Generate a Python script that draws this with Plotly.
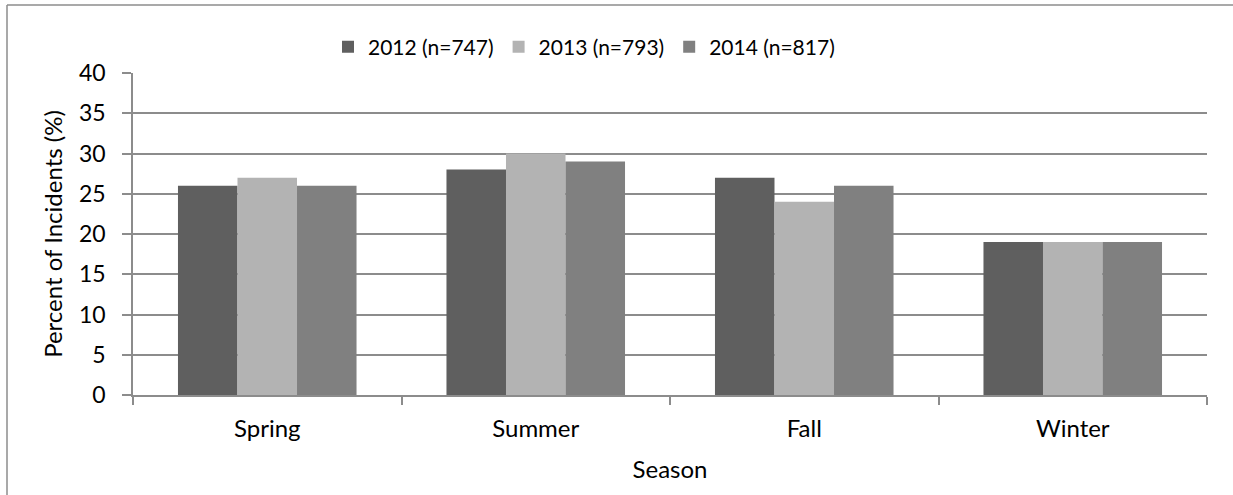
import plotly.graph_objects as go

seasons = ["Spring", "Summer", "Fall", "Winter"]
series_names = ["2012 (n=747)", "2013 (n=793)", "2014 (n=817)"]
pct_2012 = [26, 28, 27, 19]
pct_2013 = [27, 30, 24, 19]
pct_2014 = [26, 29, 26, 19]
y_ticks = [0, 5, 10, 15, 20, 25, 30, 35, 40]

colors = ["#5f5f5f", "#b3b3b3", "#808080"]
font_family = "Lato, Open Sans, sans-serif"

fig = go.Figure()
for name, vals, col in zip(series_names, [pct_2012, pct_2013, pct_2014], colors):
    fig.add_trace(go.Bar(
        x=seasons, y=vals, name=name,
        marker=dict(color=col, line=dict(width=0)),
    ))

W, H = 1233, 495
L, R, T, B = 133, 26, 73, 100
pw, ph = W - L - R, H - T - B

def px_x(px):
    return (px - L) / pw

def px_y(py):
    return (H - B - py) / ph

fig.update_layout(
    width=W, height=H,
    margin=dict(l=L, r=R, t=T, b=B),
    paper_bgcolor="white", plot_bgcolor="white",
    barmode="group", bargap=0.335, bargroupgap=0,
    font=dict(family=font_family, size=20, color="#000000"),
    legend=dict(
        orientation="h", x=px_x(328), xanchor="left",
        y=px_y(47), yanchor="middle",
        font=dict(size=21), traceorder="normal",
        itemwidth=30,
    ),
    xaxis=dict(
        title=dict(text="Season", font=dict(size=24), standoff=21),
        showline=True, linecolor="#8c8c8c", linewidth=1.5,
        ticks="outside", ticklen=8, tickcolor="#8c8c8c", tickwidth=1.5,
        tickson="boundaries", showgrid=False,
        tickfont=dict(size=24), ticklabelstandoff=11,
    ),
    yaxis=dict(
        title=dict(text="Percent of Incidents (%)", font=dict(size=24), standoff=10),
        range=[0, 40], tickvals=y_ticks,
        showline=True, linecolor="#8c8c8c", linewidth=1.5,
        ticks="outside", ticklen=9, tickcolor="#8c8c8c", tickwidth=1.5,
        showgrid=True, gridcolor="#8c8c8c", gridwidth=1.5,
        zeroline=False, tickfont=dict(size=23), ticklabelstandoff=12,
    ),
    shapes=[
        dict(type="line", xref="paper", yref="paper",
             x0=px_x(7), x1=px_x(1240), y0=px_y(5), y1=px_y(5),
             line=dict(color="#8c8c8c", width=1.5)),
        dict(type="line", xref="paper", yref="paper",
             x0=px_x(7), x1=px_x(7), y0=px_y(5), y1=px_y(500),
             line=dict(color="#8c8c8c", width=1.5)),
    ],
)

fig.write_html("out.html")
